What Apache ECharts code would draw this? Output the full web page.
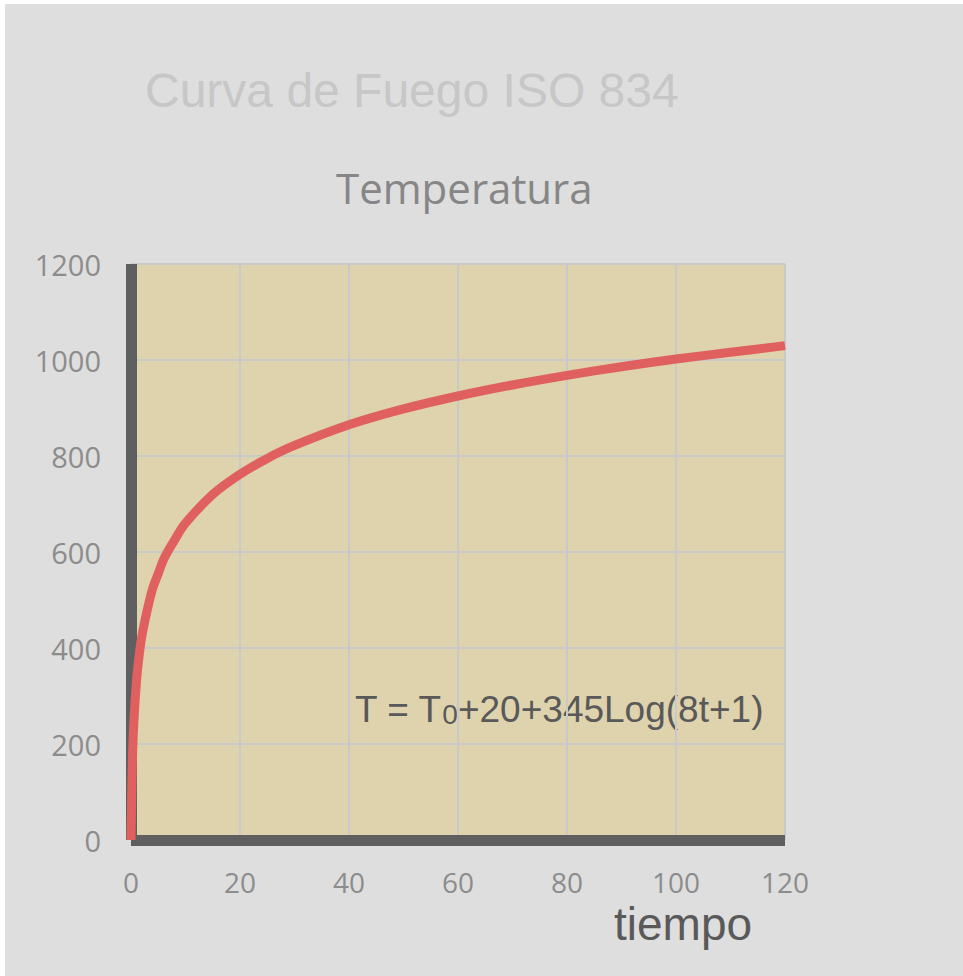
<!DOCTYPE html>
<html>
<head>
<meta charset="utf-8">
<script src="https://cdn.jsdelivr.net/npm/echarts@6/dist/echarts.min.js"></script>
<style>
html,body{margin:0;padding:0;background:#ffffff;}
#c{position:absolute;left:5px;top:4px;width:958px;height:972px;}
</style>
</head>
<body>
<div id="c"></div>
<script>
// Data
const tiempo = [0, 0.25, 0.5, 1, 1.5, 2, 3, 4, 5, 6, 8, 10, 15, 20, 25, 30, 40, 50, 60, 70, 80, 90, 100, 110, 120];
const temperatura = [0, 160, 240, 330, 385, 425, 480, 525, 555, 585, 625, 660, 720, 762, 795, 822, 865, 898, 925, 948, 968, 986, 1002, 1016, 1030];
const xTicks = [0, 20, 40, 60, 80, 100, 120];
const yTicks = [0, 200, 400, 600, 800, 1000, 1200];

const chartTitle = 'Curva de Fuego ISO 834';
const axisTitle = 'Temperatura';
const ecuacion = 'T = T{s|0}+20+345Log(8t+1)';
const xName = 'tiempo';

const chart = echarts.init(document.getElementById('c'), null, {renderer: 'svg'});
const points = tiempo.map((t, i) => [t, temperatura[i]]);

chart.setOption({
  backgroundColor: '#dedede',
  animation: false,
  grid: {
    left: 126, right: 178, top: 260, bottom: 136,
    show: true, backgroundColor: '#ded3ad', borderWidth: 0
  },
  xAxis: {
    type: 'value',
    min: xTicks[0], max: xTicks[xTicks.length - 1], interval: 20,
    axisLine: {show: true, onZero: false, lineStyle: {color: '#5f5f5f', width: 11, cap: 'butt'}},
    axisTick: {show: false},
    splitLine: {show: true, lineStyle: {color: '#c9c9c9', width: 2}},
    axisLabel: {color: '#8c8c8c', fontFamily: 'Open Sans', fontSize: 28, margin: 28, formatter: v => String(v)}
  },
  yAxis: {
    type: 'value',
    min: yTicks[0], max: yTicks[yTicks.length - 1], interval: 200,
    axisLine: {show: true, onZero: false, lineStyle: {color: '#5f5f5f', width: 11, cap: 'butt'}},
    axisTick: {show: false},
    splitLine: {show: true, lineStyle: {color: '#c9c9c9', width: 2}},
    axisLabel: {color: '#8c8c8c', fontFamily: 'Open Sans', fontSize: 29, margin: 30, formatter: v => String(v)}
  },
  series: [{
    type: 'line',
    data: points,
    smooth: 0.35,
    showSymbol: false,
    symbol: 'none',
    clip: false,
    lineStyle: {color: '#e06060', width: 9, cap: 'butt', join: 'round'}
  }],
  graphic: [
    {type: 'text', left: 140, top: 62, style: {text: chartTitle, fill: '#c7c7c7', font: '48px "Liberation Sans", Arial, sans-serif'}},
    {type: 'text', left: 331, top: 162, style: {text: axisTitle, fill: '#868686', font: '42px "Open Sans", sans-serif'}},
    {type: 'text', left: 350, top: 687, style: {
      text: ecuacion, fill: '#595959', font: '37px "Liberation Sans", Arial, sans-serif',
      rich: {s: {fontSize: 28, fill: '#595959', fontFamily: 'Liberation Sans', verticalAlign: 'bottom', padding: [6, 0, 0, 0]}}
    }},
    {type: 'text', left: 609, top: 897, style: {text: xName, fill: '#595959', font: '46px "Liberation Sans", Arial, sans-serif'}}
  ]
});
</script>
</body>
</html>
